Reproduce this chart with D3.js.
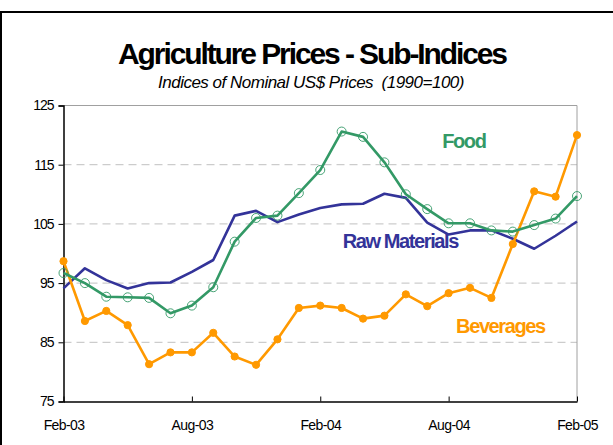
<!DOCTYPE html>
<html>
<head>
<meta charset="utf-8">
<script src="https://cdn.jsdelivr.net/npm/d3@7"></script>
<style>
  html, body { margin: 0; padding: 0; background: #fff; }
  svg { display: block; font-family: "Liberation Sans", Arial, sans-serif; }
</style>
</head>
<body>
<div id="chart"></div>
<script>
// ---------- Data ----------
const months = [
  "Feb-03", "Mar-03", "Apr-03", "May-03", "Jun-03", "Jul-03", "Aug-03", "Sep-03", "Oct-03",
  "Nov-03", "Dec-03", "Jan-04", "Feb-04", "Mar-04", "Apr-04", "May-04", "Jun-04", "Jul-04",
  "Aug-04", "Sep-04", "Oct-04", "Nov-04", "Dec-04", "Jan-05", "Feb-05"
];
const tickMonths = ["Feb-03", "Aug-03", "Feb-04", "Aug-04", "Feb-05"];
const yTicks = [75, 85, 95, 105, 115, 125];

const food = [96.7, 95.0, 92.7, 92.6, 92.5, 89.9, 91.2, 94.3, 102.0, 106.0, 106.4, 110.2, 114.1,
  120.6, 119.7, 115.4, 110.0, 107.5, 105.1, 105.1, 103.9, 103.7, 104.8, 105.9, 109.7];
const rawMaterials = [94.1, 97.5, 95.5, 94.1, 95.0, 95.1, 96.9, 98.9, 106.4, 107.2, 105.3, 106.6, 107.7,
  108.3, 108.4, 110.1, 109.4, 105.2, 103.2, 103.9, 103.9, 102.5, 100.8, 103.0, 105.4];
const beverages = [98.7, 88.6, 90.3, 87.9, 81.3, 83.3, 83.3, 86.6, 82.6, 81.2, 85.5, 90.8, 91.2,
  90.8, 89.0, 89.5, 93.1, 91.1, 93.3, 94.2, 92.5, 101.6, 110.5, 109.6, 120.0];

// series label anchors, in data units (month index, value)
const seriesLabels = [
  { name: "Food", at: [17.7, 117.8] },
  { name: "Raw Materials", at: [13.05, 100.9] },
  { name: "Beverages", at: [18.35, 86.6] }
];

const COLORS = { "Food": "#339966", "Raw Materials": "#333399", "Beverages": "#ff9900" };

// ---------- Chart ----------
const W = 613, H = 445;
const svg = d3.select("#chart").append("svg").attr("width", W).attr("height", H);

// outer frame (only top/left visible)
svg.append("rect")
  .attr("x", 1).attr("y", 12).attr("width", 640).attr("height", 460)
  .attr("fill", "none").attr("stroke", "#000").attr("stroke-width", 2);

svg.append("text")
  .attr("x", 312).attr("y", 63.5)
  .attr("text-anchor", "middle")
  .attr("font-size", 30).attr("font-weight", "bold")
  .attr("letter-spacing", -2.1)
  .text("Agriculture Prices - Sub-Indices");

svg.append("text")
  .attr("x", 311).attr("y", 87.5)
  .attr("text-anchor", "middle")
  .attr("font-size", 17).attr("font-style", "italic")
  .attr("letter-spacing", -0.5)
  .style("white-space", "pre")
  .text("Indices of Nominal US$ Prices  (1990=100)");

const plotL = 63.5, plotR = 577, plotT = 105.5, plotB = 401.5;

const x = d3.scalePoint().domain(months).range([plotL, plotR]);
const xi = d3.scaleLinear().domain([0, months.length - 1]).range([plotL, plotR]);
const y = d3.scaleLinear().domain([75, 125]).range([plotB, plotT]);

// gridlines
svg.append("g")
  .selectAll("line")
  .data(yTicks.filter((d) => d > 75 && d < 125))
  .enter()
  .append("line")
  .attr("x1", plotL).attr("x2", plotR)
  .attr("y1", (d) => y(d)).attr("y2", (d) => y(d))
  .attr("stroke", "#c0c0c0").attr("stroke-dasharray", "8,5");

// plot area top/right border
svg.append("path")
  .attr("d", `M${plotL},${plotT}H${plotR}V${plotB}`)
  .attr("fill", "none").attr("stroke", "#a0a0a0").attr("stroke-width", 1);

// y axis
const yAxis = svg.append("g")
  .attr("transform", `translate(${plotL},0)`)
  .call(d3.axisLeft(y).tickValues(yTicks).tickSize(5).tickPadding(5));
yAxis.select(".domain").attr("stroke", "#000").attr("stroke-width", 1.5);
yAxis.selectAll("text")
  .attr("font-size", 14).attr("letter-spacing", -1).attr("font-family", null)
  .attr("fill", "#000");

// x axis
const xAxis = svg.append("g")
  .attr("transform", `translate(0,${plotB})`)
  .call(d3.axisBottom(x).tickValues(tickMonths).tickSize(-5).tickSizeOuter(0).tickPadding(19));
xAxis.select(".domain").attr("stroke", "#000").attr("stroke-width", 1.5);
xAxis.selectAll("text")
  .attr("font-size", 14).attr("letter-spacing", -0.6).attr("font-family", null)
  .attr("fill", "#000");

// lines
const line = d3.line().x((d, i) => x(months[i])).y((d) => y(d));

const series = [
  { name: "Raw Materials", values: rawMaterials, marker: null },
  { name: "Beverages", values: beverages, marker: "filled" },
  { name: "Food", values: food, marker: "hollow" }
];

series.forEach((s) => {
  const g = svg.append("g");
  g.append("path")
    .datum(s.values)
    .attr("d", line)
    .attr("fill", "none")
    .attr("stroke", COLORS[s.name])
    .attr("stroke-width", 2.6)
    .attr("stroke-linejoin", "round");

  if (s.marker) {
    g.selectAll("circle")
      .data(s.values)
      .enter()
      .append("circle")
      .attr("cx", (d, i) => x(months[i]))
      .attr("cy", (d) => y(d))
      .attr("r", s.marker === "filled" ? 3.6 : 4.5)
      .attr("fill", s.marker === "filled" ? COLORS[s.name] : "none")
      .attr("stroke", COLORS[s.name])
      .attr("stroke-width", s.marker === "filled" ? 1 : 0.9);
  }
});

// series labels
svg.append("g")
  .selectAll("text")
  .data(seriesLabels)
  .enter()
  .append("text")
  .attr("x", (d) => xi(d.at[0]))
  .attr("y", (d) => y(d.at[1]))
  .attr("font-size", 20).attr("font-weight", "bold")
  .attr("letter-spacing", -1.4)
  .attr("fill", (d) => COLORS[d.name])
  .text((d) => d.name);
</script>
</body>
</html>
